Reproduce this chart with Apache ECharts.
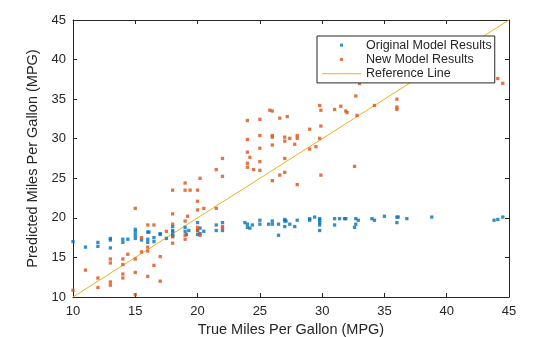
<!DOCTYPE html>
<html>
<head>
<meta charset="utf-8">
<script src="https://cdn.jsdelivr.net/npm/echarts@6/dist/echarts.min.js"></script>
<style>
html,body{margin:0;padding:0;background:#fff;}
#chart{width:560px;height:337px;}
</style>
</head>
<body>
<div id="chart"></div>
<script>
// True MPG (x) vs predicted MPG (y), original model
var origX = [10,11,12,12,13,13,13,14,14,14.4,15,15,15,15,15.5,16,16.1,16,16,16.5,16.5,17,17,17.5,18,18,18,18,18,19,19,19.3,19.1,20,20,20,20.2,20.2,20.5,21.5,21.5,22,22,23.8,24,24,24.4,24.2,25,25,25.7,26,26,26.5,26.5,27,27,27,27.1,27.4,27.8,28,29,29,29.4,29.8,29.8,29.8,29.8,29.8,31,31,31.4,31.8,31.9,32.7,32.7,32.6,32.9,34,34.2,35,36,36.1,36,36.8,38.8,43.8,44.1,44.5];
var origY = [17.0,16.3,16.9,16.4,17.4,17.2,16.2,17.3,16.9,17.3,18.55,18.2,17.8,17.4,17.2,18.2,18.2,17.3,16.9,17.5,17.0,18.0,17.9,17.4,18.9,18.4,18.2,17.8,17.7,18.8,18.3,18.4,17.9,19.4,18.4,17.9,18.7,18.0,18.3,19.1,18.4,19.4,18.4,19.4,19.2,18.8,19.1,18.7,19.7,19.2,19.2,19.6,19.2,19.2,17.8,19.8,19.6,18.9,19.6,19.2,18.9,19.7,19.9,19.7,20.1,19.9,19.7,19.4,19.1,18.4,19.9,19.1,19.9,19.9,19.9,19.9,19.2,18.8,19.7,19.9,19.7,20.2,20.1,20.1,19.4,19.9,20.1,19.7,19.8,20.1];
// New model
var newX = [10,11,12,12,13,13,13,13,14,14,14,14,14.4,15,15,15,15,15.5,15.5,16,16,16,16,16.5,16.5,17,17,17.5,18,18,18,18,18,19,19,19.2,19,19,19,19.4,20,20,20,20,20,20.2,20.2,20.5,21.5,21.5,22,22,22,22,24,24,24,24,24,24.2,24.5,25,25,25,25,25,25.8,26,26,26,26,26,26.6,26.6,27,27,27,27,27.2,27.4,27.8,28,28,28,29,29,29.5,29.8,29.9,29.9,29.8,29.9,31,31.5,31.9,32,32.6,32.7,32.8,33,34.2,36,36,36,44.1,44.5];
var newY = [10.85,13.4,12.4,11.2,14.8,14.3,11.9,11.5,14.8,14.1,12.9,12.4,15.4,21.2,14.8,13.1,10.3,17.5,15.7,16.3,15.8,12.6,19.1,19.1,14.0,15.1,12.0,18.3,20.5,19.2,17.6,16.8,23.5,24.4,23.5,20.2,19.6,17.8,17.3,23.5,23.5,22.1,21.0,18.8,18.4,25.0,17.8,21.2,26.1,21.2,27.5,25.25,18.9,18.7,28.3,26.9,26.4,32.3,29.9,27.65,26.1,27.1,26.0,32.45,30.4,28.8,33.6,33.5,30.4,30.2,29.2,24.7,32.6,25.4,30.2,29.7,27.5,25.75,32.8,30.05,29.3,30.4,30.05,24.2,31.2,28.7,29.0,34.2,33.6,31.6,30.05,25.4,33.7,34.1,33.5,33.3,26.5,35.4,32.95,37.0,34.2,35.0,34.0,33.7,37.6,37.0];
// Reference line y = x
var refX = [10,45];
var refY = [10,45];

var seriesNames = ['Original Model Results','New Model Results','Reference Line'];
var axisMin = 10, axisMax = 45, axisStep = 5;

function zip(a,b){ return a.map(function(v,i){ return [v,b[i]]; }); }

var FONT = 'Liberation Sans';
var INK = '#262626';
var SQUARE = 'path://M0,0L1,0L1,1L0,1Z';
var BAR = 'path://M0,0L39,0L39,1L0,1Z';
var chart = echarts.init(document.getElementById('chart'), null, {renderer:'canvas'});

function mkX(pos, show){
  return {
    type:'value', position:pos, min:axisMin, max:axisMax, interval:axisStep,
    name: show ? 'True Miles Per Gallon (MPG)' : '',
    nameLocation:'middle', nameGap:25,
    nameTextStyle:{fontFamily:FONT,fontSize:14.5,color:INK},
    axisLine:{show:true,onZero:false,lineStyle:{color:INK,width:1}},
    axisTick:{show:true,inside:true,length:4,lineStyle:{color:INK}},
    axisLabel:{show:show,margin:8,fontFamily:FONT,fontSize:13,color:INK},
    splitLine:{show:false}
  };
}
function mkY(pos, show){
  return {
    type:'value', position:pos, min:axisMin, max:axisMax, interval:axisStep,
    name: show ? 'Predicted Miles Per Gallon (MPG)' : '',
    nameLocation:'middle', nameGap:23,
    nameTextStyle:{fontFamily:FONT,fontSize:14.5,color:INK},
    axisLine:{show:true,onZero:false,lineStyle:{color:INK,width:1}},
    axisTick:{show:true,inside:true,length:4,lineStyle:{color:INK}},
    axisLabel:{show:show,margin:7,fontFamily:FONT,fontSize:13,color:INK},
    splitLine:{show:false}
  };
}

chart.setOption({
  animation:false,
  backgroundColor:'#ffffff',
  grid:{left:73,right:51,top:20,bottom:40,containLabel:false,outerBoundsMode:'none'},
  xAxis:[mkX('bottom',true), mkX('top',false)],
  yAxis:[mkY('left',true), mkY('right',false)],
  legend:{
    orient:'vertical', left:317, top:36,
    padding:[2,3,2,5], itemGap:0, itemWidth:39, itemHeight:3,
    symbolKeepAspect:true,
    backgroundColor:'#ffffff', borderColor:INK, borderWidth:1,
    textStyle:{fontFamily:FONT,fontSize:12.5,color:INK,lineHeight:14.3},
    data:[
      {name:seriesNames[0],icon:SQUARE},
      {name:seriesNames[1],icon:SQUARE},
      {name:seriesNames[2],icon:BAR}
    ]
  },
  series:[
    {name:seriesNames[0],type:'scatter',symbol:'rect',symbolSize:3.3,
     itemStyle:{color:'#0072BD'},data:zip(origX,origY),z:3},
    {name:seriesNames[1],type:'scatter',symbol:'rect',symbolSize:3.3,
     itemStyle:{color:'#D95319'},data:zip(newX,newY),z:3},
    {name:seriesNames[2],type:'line',symbol:'none',showSymbol:false,clip:true,
     lineStyle:{color:'#EDB120',width:1},itemStyle:{color:'#EDB120'},data:zip(refX,refY),z:2}
  ]
});
</script>
</body>
</html>
